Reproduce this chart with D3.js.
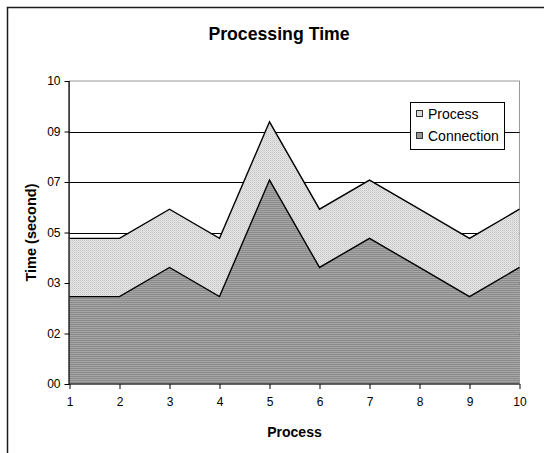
<!DOCTYPE html>
<html>
<head>
<meta charset="utf-8">
<script src="https://cdn.jsdelivr.net/npm/d3@7"></script>
<style>
  html, body { margin: 0; padding: 0; background: #fff; }
  svg { display: block; font-family: Arial, "Liberation Sans", Helvetica, sans-serif; }
</style>
</head>
<body>
<svg id="chart" width="544" height="453"></svg>
<script>
// ---- data ----
const processes = [1, 2, 3, 4, 5, 6, 7, 8, 9, 10];
const connection = [3, 3, 4, 3, 7, 4, 5, 4, 3, 4];
const processTime = [2, 2, 2, 2, 2, 2, 2, 2, 2, 2];
const seriesNames = ["Connection", "Process"];
const yTickLabels = ["00", "02", "03", "05", "07", "09", "10"];
const yMax = 10.4;

// ---- layout ----
const svg = d3.select("#chart");
const plot = { left: 69.5, right: 519.5, top: 81, bottom: 384 };

// outer chart border
svg.append("rect")
  .attr("x", 7.5).attr("y", 7.5)
  .attr("width", 600).attr("height", 500)
  .attr("fill", "#fff").attr("stroke", "#1a1a1a").attr("stroke-width", 1.5);

// patterns
const defs = svg.append("defs");
const pP = defs.append("pattern").attr("id", "pProcess")
  .attr("patternUnits", "userSpaceOnUse").attr("width", 2).attr("height", 2);
pP.append("rect").attr("width", 2).attr("height", 2).attr("fill", "#e4e4e4");
pP.append("rect").attr("width", 1).attr("height", 1).attr("fill", "#c6c6c6");
pP.append("rect").attr("x", 1).attr("y", 1).attr("width", 1).attr("height", 1).attr("fill", "#d6d6d6");

const pC = defs.append("pattern").attr("id", "pConn")
  .attr("patternUnits", "userSpaceOnUse").attr("width", 2).attr("height", 2);
pC.append("rect").attr("width", 2).attr("height", 2).attr("fill", "#a6a6a6");
pC.append("rect").attr("width", 2).attr("height", 1).attr("fill", "#8a8a8a");

// scales
const x = d3.scaleLinear().domain([1, 10]).range([plot.left, plot.right]);
const y = d3.scaleLinear().domain([0, yMax]).range([plot.bottom, plot.top]);
const yTicks = d3.range(yTickLabels.length).map(i => i * yMax / (yTickLabels.length - 1));

// plot border (grey top/right)
svg.append("rect")
  .attr("x", plot.left).attr("y", plot.top)
  .attr("width", plot.right - plot.left).attr("height", plot.bottom - plot.top)
  .attr("fill", "#fff").attr("stroke", "#999").attr("stroke-width", 1);

// gridlines
svg.append("g").selectAll("line")
  .data(yTicks.slice(1, -1))
  .join("line")
  .attr("x1", plot.left).attr("x2", plot.right)
  .attr("y1", d => Math.round(y(d)) + 0.5).attr("y2", d => Math.round(y(d)) + 0.5)
  .attr("stroke", "#000").attr("stroke-width", 1);

// stacked areas
const table = processes.map((p, i) => ({ p, Connection: connection[i], Process: processTime[i] }));
const stack = d3.stack().keys(seriesNames)(table);
const area = d3.area().x(d => x(d.data.p)).y0(d => y(d[0])).y1(d => y(d[1]));
const topLine = d3.line().x(d => x(d.data.p)).y(d => y(d[1]));
const fills = { Connection: "url(#pConn)", Process: "url(#pProcess)" };

svg.append("g").selectAll("path.area")
  .data(stack)
  .join("path")
  .attr("class", "area")
  .attr("d", area)
  .attr("fill", d => fills[d.key]);

svg.append("g").selectAll("path.top")
  .data(stack)
  .join("path")
  .attr("class", "top")
  .attr("d", topLine)
  .attr("fill", "none")
  .attr("stroke", "#000")
  .attr("stroke-width", 1.4)
  .attr("stroke-linejoin", "miter");

// axes
const yAxis = d3.axisLeft(y).tickValues(yTicks)
  .tickFormat((d, i) => yTickLabels[i]).tickSize(5).tickPadding(4);
const gy = svg.append("g").attr("transform", `translate(${plot.left},0)`).call(yAxis);
const xAxis = d3.axisBottom(x).tickValues(processes)
  .tickFormat(d3.format("d")).tickSize(5).tickPadding(8);
const gx = svg.append("g").attr("transform", `translate(0,${plot.bottom})`).call(xAxis);
[gy, gx].forEach(g => {
  g.select(".domain").attr("stroke", "#000").attr("stroke-width", 1.2);
  g.selectAll(".tick line").attr("stroke", "#000");
  g.selectAll("text").attr("fill", "#000").style("font-size", "12px")
    .style("font-family", "Arial, 'Liberation Sans', sans-serif");
});
gy.select(".domain").attr("d", `M-0.5,${plot.bottom}V${plot.top}`);
gx.select(".domain").attr("d", `M${plot.left},0H${plot.right}`);

// titles
svg.append("text")
  .attr("x", 279).attr("y", 39.5)
  .attr("text-anchor", "middle")
  .style("font-size", "17.7px").style("font-weight", "bold")
  .text("Processing Time");

svg.append("text")
  .attr("x", (plot.left + plot.right) / 2).attr("y", 437)
  .attr("text-anchor", "middle")
  .style("font-size", "14px").style("font-weight", "bold")
  .text("Process");

svg.append("text")
  .attr("transform", `translate(36,${(plot.top + plot.bottom) / 2}) rotate(-90)`)
  .attr("text-anchor", "middle")
  .style("font-size", "14.5px").style("font-weight", "bold")
  .text("Time (second)");

// legend
const legend = svg.append("g");
legend.append("rect")
  .attr("x", 410.5).attr("y", 102.5).attr("width", 94).attr("height", 47)
  .attr("fill", "#fff").attr("stroke", "#000").attr("stroke-width", 1);
const legendItems = ["Process", "Connection"];
const legendFill = { Process: "#d8d8d8", Connection: "#999" };
legendItems.forEach((name, i) => {
  const cy = 114 + i * 22;
  legend.append("rect")
    .attr("x", 416.5).attr("y", cy - 3.5).attr("width", 6).attr("height", 6)
    .attr("fill", legendFill[name]).attr("stroke", "#333").attr("stroke-width", 1);
  legend.append("text")
    .attr("x", 428).attr("y", cy + 5.3)
    .style("font-size", "14px")
    .text(name);
});
</script>
</body>
</html>
